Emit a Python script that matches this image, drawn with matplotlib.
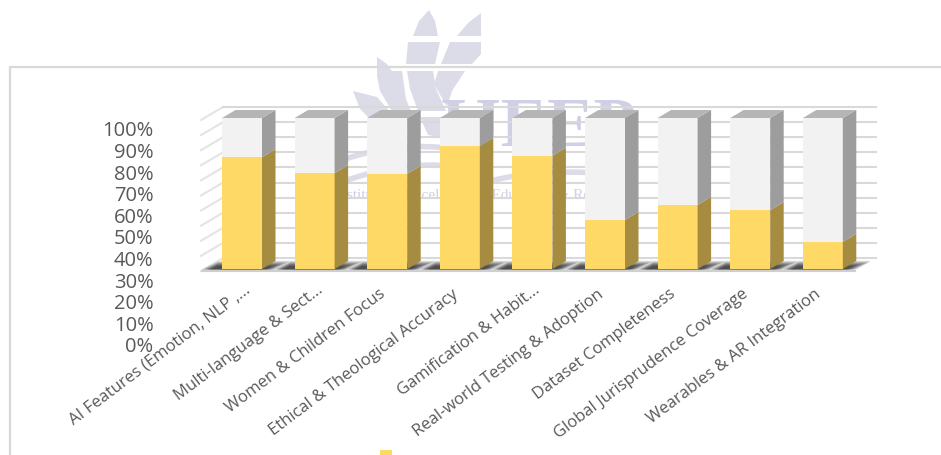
import numpy as np
from matplotlib import pyplot as plt
from matplotlib.patches import Polygon, Rectangle
from matplotlib.path import Path
from matplotlib.patches import PathPatch
from matplotlib.transforms import ScaledTranslation

categories = ['AI Features (Emotion, NLP ,...', 'Multi-language & Sect...', 'Women & Children Focus',
              'Ethical & Theological Accuracy', 'Gamification & Habit...', 'Real-world Testing & Adoption',
              'Dataset Completeness', 'Global Jurisprudence Coverage', 'Wearables & AR Integration']
yes_values = [74, 63.5, 63, 81.5, 75, 32.5, 42.5, 39, 18]
no_values = [26, 36.5, 37, 18.5, 25, 67.5, 57.5, 61, 82]
pct_ticks = list(range(0, 101, 10))
pct_labels = ['%d%%' % p for p in pct_ticks]

W, H = 941, 456
GRID = '#d9d9d9'
TEXT = '#595959'
WM = '#dcdce9'
WM_TEXT = '#cfcfe5'

fig = plt.figure(figsize=(W/100, H/100), dpi=100)

# background layer in pixels: frame, watermark, cut off legend key
bg = fig.add_axes([0, 0, 1, 1], zorder=0)
bg.set_xlim(0, W)
bg.set_ylim(H, 0)
bg.axis('off')
bg.plot([10, 10, W], [H, 68, 68], color=GRID, lw=1.6)

leaves = [
    [(429, 11), (435, 22), (438, 37), (413, 37), (419, 22)],
    [(481, 14), (481, 37), (457, 37), (468, 24)],
    [(440, 43), (408, 43), (406, 65), (435, 65)],
    [(481, 43), (450, 43), (441, 65), (472, 65), (481, 55)],
    [(433, 72), (407, 72), (410, 90), (418, 112), (446, 112), (436, 90)],
    [(465, 72), (438, 72), (434, 85), (447, 108), (452, 92)],
    [(377, 58), (387, 65), (392, 72), (402, 72), (406, 100), (412, 115), (392, 112), (380, 92), (377, 77)],
    [(353, 92), (377, 98), (392, 115), (402, 128), (372, 122), (360, 110)],
    [(420, 118), (442, 118), (450, 140), (428, 136)],
]
for pts in leaves:
    bg.add_patch(Polygon(pts, closed=True, fc=WM, ec='none'))
swooshes = [
    [(345, 160), (400, 142), (455, 150)],
    [(345, 182), (410, 158), (470, 170)],
    [(490, 182), (545, 168), (625, 176)],
]
for (a, b, c) in swooshes:
    path = Path([a, b, c], [Path.MOVETO, Path.CURVE3, Path.CURVE3])
    bg.add_patch(PathPatch(path, fc='none', ec=WM, lw=4))
bg.text(538, 146, 'IJEEP', family='Liberation Serif', weight='bold', fontsize=50, color=WM_TEXT,
        ha='center', va='baseline')
bg.text(482, 196, 'Institute of Excellence in Education & Research', family='Liberation Serif',
        fontsize=11, color=WM_TEXT, ha='center', va='center')
bg.add_patch(Rectangle((380, 451), 12, 6, fc='#ffd966', ec='none', clip_on=True))

# main plot, x = category index, y = percent
PITCH = 72.6
PX_Y = 1.51
ax = fig.add_axes([201/W, 1-275/H, 675/W, 175/H], zorder=2)
ax.patch.set_alpha(0)
ax.set_xlim((201-242)/PITCH, (876-242)/PITCH)
ax.set_ylim((270-275)/PX_Y, (270-100)/PX_Y)
for s in ax.spines.values():
    s.set_visible(False)

dx = 13.5/PITCH
dy = 8/PX_Y
half = 20/PITCH

# walls and gridlines
wall_dx = 22/PITCH
wall_dy = 13/PX_Y
x_front = (201-242)/PITCH
x_back = x_front + wall_dx
y_front = -2/PX_Y
for p in pct_ticks:
    yy = y_front + p
    ax.plot([x_front, x_back], [yy, yy+wall_dy], color='#e4e4e4', lw=1.5, zorder=1, clip_on=False)
    ax.plot([x_back, (876-242)/PITCH], [yy+wall_dy, yy+wall_dy], color=GRID, lw=1.5, zorder=1, clip_on=False)

# floor with soft shadows under the bars
ax.fill([x_front, (855-242)/PITCH, (870-242)/PITCH, x_back],
        [y_front, y_front, y_front+wall_dy*0.8, y_front+wall_dy*0.8], color='#ececec', zorder=2, lw=0)
ax.plot([x_front, (855-242)/PITCH], [y_front, y_front], color='#cfcfcf', lw=1.5, zorder=2)
for i in range(len(categories)):
    for grow, alpha in [(0, 0.22), (2, 0.25), (4, 0.3), (6, 0.35), (8, 0.4)]:
        sl = (40-grow)/PITCH
        sr = (32-grow)/PITCH
        top = (8-grow*0.55)/PX_Y
        y0 = -0.5/PX_Y
        ax.fill([i-sl, i+sr, i+sr+top*PX_Y*2/PITCH, i-sl+top*PX_Y*2/PITCH],
                [y0, y0, y0+top, y0+top], color='#333333', alpha=alpha, lw=0, zorder=3)


def draw_block(i, y0, y1, front, side):
    ax.bar(i, y1-y0, width=2*half, bottom=y0, color=front, zorder=5+0.01*i)
    ax.add_patch(Polygon([(i+half, y0), (i+half+dx, y0+dy), (i+half+dx, y1+dy), (i+half, y1)],
                         closed=True, fc=side, ec='none', zorder=5+0.01*i))


x = np.arange(len(categories))
for i in x:
    draw_block(i, 0, yes_values[i], '#ffd966', '#a68c40')
    draw_block(i, yes_values[i], yes_values[i]+no_values[i], '#f2f2f2', '#9d9d9d')
    top = yes_values[i]+no_values[i]
    ax.add_patch(Polygon([(i-half, top), (i+half, top), (i+half+dx, top+dy), (i-half+dx, top+dy)],
                         closed=True, fc='#b5b5b5', ec='none', zorder=5+0.01*i))

ax.set_yticks([])
ax.set_xticks(x)
ax.set_xticklabels(categories, rotation=37, ha='right', va='top', rotation_mode='anchor',
                   family='Open Sans', fontsize=12, color=TEXT)
ax.tick_params(axis='x', length=0, pad=8)
for lab in ax.get_xticklabels():
    # the cut off labels run further up and to the right
    if lab.get_text().endswith('...'):
        shift = ScaledTranslation(1/72, 3/72, fig.dpi_scale_trans)
    else:
        shift = ScaledTranslation(-6/72, 0, fig.dpi_scale_trans)
    lab.set_transform(lab.get_transform()+shift)

# the percent axis sits apart from the bars, lower down
ay = fig.add_axes([155/W, 1-345/H, 10/W, 216/H], zorder=1)
ay.patch.set_alpha(0)
ay.set_ylim(0, 100)
ay.set_xticks([])
ay.set_yticks(pct_ticks)
ay.set_yticklabels(pct_labels, family='Open Sans', fontsize=14.5, color=TEXT)
ay.tick_params(axis='y', length=0, pad=1)
for s in ay.spines.values():
    s.set_visible(False)

plt.savefig('out.png', dpi=100)
